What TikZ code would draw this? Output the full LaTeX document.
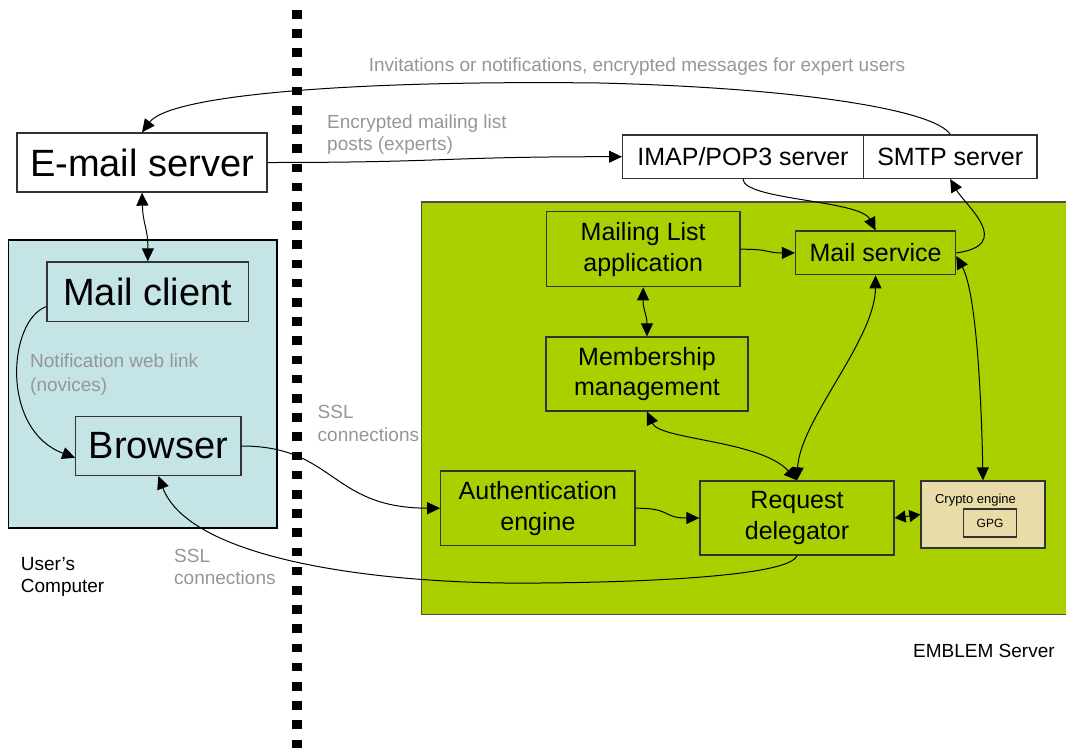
\documentclass[tikz,border=0pt]{standalone}
\usepackage{fontspec}
\setmainfont{Liberation Sans}
\usetikzlibrary{arrows.meta,calc}
\definecolor{cyanbg}{RGB}{196,228,230}
\definecolor{greenbg}{RGB}{170,208,0}
\definecolor{tanbg}{RGB}{232,220,168}
\definecolor{lblgray}{RGB}{150,150,150}
\begin{document}
\begin{tikzpicture}[x=1pt,y=-1pt,
  >={Triangle[length=13pt,width=12pt]},
  box/.style={draw=black!80, line width=1.3pt, inner sep=0pt, align=center},
  bigtxt/.style={font=\fontsize{38}{40}\selectfont},
  midtxt/.style={font=\fontsize{25}{30.7}\selectfont},
  conn/.style={line width=1pt, draw=black},
  lbl/.style={text=lblgray, align=left, inner sep=0pt, anchor=west, font=\fontsize{19}{23}\selectfont},
  blbl/.style={text=black, align=left, inner sep=0pt, anchor=west, font=\fontsize{19}{22}\selectfont}]
\path[use as bounding box] (0,0) rectangle (1066,748);

% regions
\node[draw=black, line width=1.2pt, fill=cyanbg, minimum width=268.4pt, minimum height=288pt, inner sep=0pt] (usercomp) at (142.8,384) {};
\node[draw=black!70, line width=1.2pt, fill=greenbg, minimum width=648pt, minimum height=412.7pt, inner sep=0pt] (emblem) at (745.5,408.35) {};

% boundary
\draw[line width=9.5pt, dash pattern=on 8.5pt off 10.7pt] (297,10) -- (297,752);

% boxes
\node[box, fill=white, bigtxt, minimum width=250pt, minimum height=59pt] (email) at (142,162.5) {E-mail server};
\node[box, fill=cyanbg, bigtxt, minimum width=201.6pt, minimum height=59.7pt] (mailclient) at (147.8,291.8) {Mail client};
\node[box, fill=cyanbg, bigtxt, minimum width=165.2pt, minimum height=58.6pt] (browser) at (158.4,446) {Browser};
\node[box, fill=white, midtxt, minimum width=240.7pt, minimum height=43.3pt] (imap) at (743,156.7) {IMAP/POP3 server};
\node[box, fill=white, midtxt, minimum width=173.7pt, minimum height=43.3pt] (smtp) at (950.2,156.7) {SMTP server};
\node[box, midtxt, minimum width=193.6pt, minimum height=75pt] (mlapp) at (643.2,249.2) {Mailing List\\application};
\node[box, midtxt, minimum width=160pt, minimum height=43.7pt] (mailsvc) at (875.6,252.9) {Mail service};
\node[box, midtxt, minimum width=202pt, minimum height=74pt] (member) at (647,374) {Membership\\management};
\node[box, midtxt, minimum width=194.2pt, minimum height=74.3pt] (auth) at (537.9,508.2) {Authentication\\engine};
\node[box, midtxt, minimum width=194pt, minimum height=74pt] (reqdel) at (797,518) {Request\\delegator};
\node[box, fill=tanbg, minimum width=124pt, minimum height=67pt] (crypto) at (983,514.5) {};
\node[inner sep=0pt, font=\fontsize{13}{15}\selectfont] (cryptolbl) at (975.5,500) {Crypto engine};
\node[box, font=\fontsize{12}{14}\selectfont, minimum width=53pt, minimum height=28pt] (gpg) at (990,523) {GPG};

% connectors
\draw[conn,->] (smtp.north) .. controls (935,110) and (800,88) .. (600,83)
   .. controls (350,80) and (170,95) .. (email.north);
\draw[conn,->] (email.east) .. controls (450,162.5) and (440,156.7) .. (imap.west);
\draw[conn,<->] (email.south) .. controls (143,225) and (148,228) .. (mailclient.north);
\draw[conn,->] ($(mailclient.south west)+(0,-15.7)$) .. controls (8,320) and (0,430) .. ($(browser.west)+(0,11.7)$);
\draw[conn,->] (browser.east) .. controls (335,446) and (330,508) .. (auth.west);
\draw[conn,->] (reqdel.south) .. controls (790,575) and (660,582) .. (540,583)
   .. controls (380,585) and (190,560) .. (browser.south);
\draw[conn,->] (auth.east) .. controls (672,508) and (662,518) .. (reqdel.west);
\draw[conn,->] (mlapp.east) .. controls (772,249.2) and (765,252.9) .. (mailsvc.west);
\draw[conn,->] (imap.south) .. controls (743,200) and (860,200) .. (mailsvc.north);
\draw[conn,->] (mailsvc.east) .. controls (1015,245) and (965,205) .. (smtp.south);
\draw[conn,<->] (reqdel.north) .. controls (800,420) and (875,340) .. (mailsvc.south);
\draw[conn,<->] (crypto.north) .. controls (981,380) and (975,290) .. ($(mailsvc.east)+(0,3)$);
\draw[conn,<->] (mlapp.south) .. controls (643,310) and (647,315) .. (member.north);
\draw[conn,<->] (member.south) .. controls (660,440) and (760,440) .. (reqdel.north);
\draw[conn,{Triangle[length=11pt,width=12pt]}-{Triangle[length=11pt,width=12pt]}] (reqdel.east) -- (crypto.west);

% labels
\node[lbl, anchor=center, align=center] (invit) at (637,67) {Invitations or notifications, encrypted messages for expert users};
\node[lbl, font=\fontsize{19}{22}\selectfont] (encr) at (327,135) {Encrypted mailing list\\posts (experts)};
\node[lbl, font=\fontsize{19}{24}\selectfont] (notif) at (30,375) {Notification web link\\(novices)};
\node[lbl, font=\fontsize{19}{23}\selectfont] (ssla) at (317.5,423.5) {SSL\\connections};
\node[lbl, font=\fontsize{19}{22.5}\selectfont] (sslb) at (174,567) {SSL\\connections};
\node[blbl] (userlbl) at (20.7,577) {User’s\\Computer};
\node[blbl] (emblemlbl) at (913,651) {EMBLEM Server};
\end{tikzpicture}
\end{document}
